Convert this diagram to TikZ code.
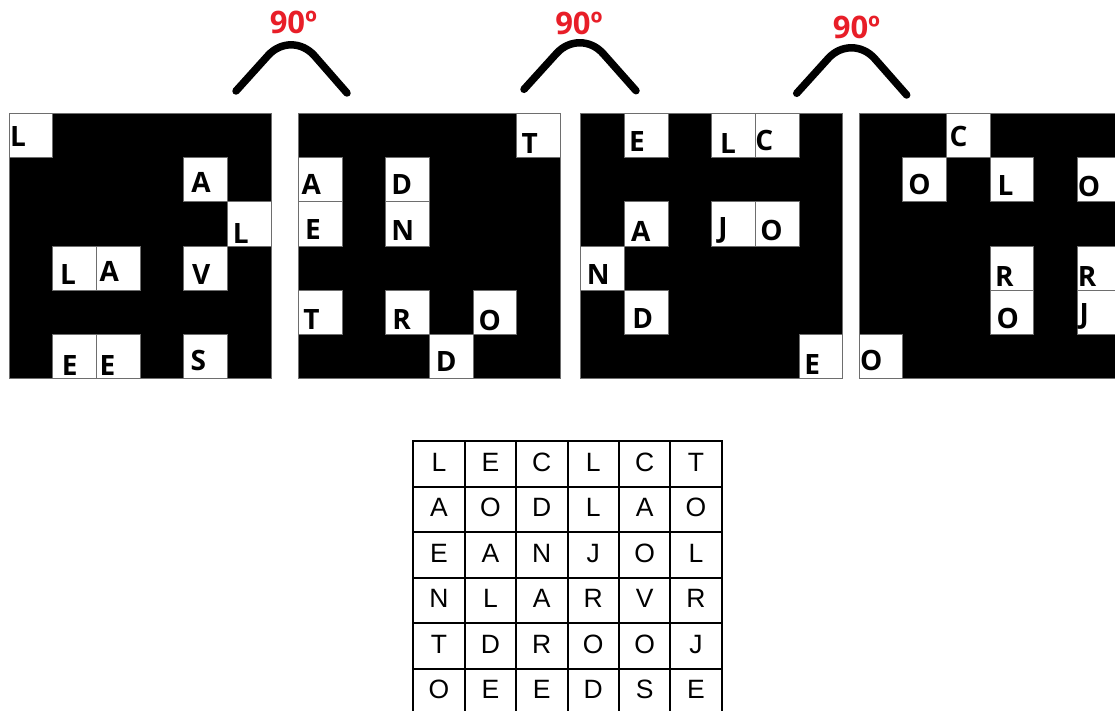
\documentclass[tikz,border=0pt]{standalone}
\usepackage{fontspec}
\setmainfont{Liberation Sans}
\newfontfamily\gfont{Open Sans}
\definecolor{lblred}{RGB}{232,30,40}
\definecolor{edgegray}{RGB}{110,110,110}
\begin{document}
\begin{tikzpicture}[x=1pt,y=-1pt,
  blk/.style={draw=edgegray, line width=0.8pt, fill=black, anchor=north west,
    minimum width=261.9pt, minimum height=265.2pt, inner sep=0pt, outer sep=0pt},
  wcell/.style={draw=edgegray, line width=0.8pt, fill=white, anchor=north west,
    minimum width=43.65pt, minimum height=44.2pt, inner sep=0pt, outer sep=0pt},
  glet/.style={font=\gfont\bfseries\fontsize{28}{28}\selectfont, anchor=base west, inner sep=0pt},
  arcline/.style={line width=7.5pt, line cap=round, rounded corners=35pt},
  deglbl/.style={font=\gfont\bfseries\fontsize{31}{31}\selectfont, text=lblred, anchor=base, inner sep=0pt},
  bcell/.style={draw=black, line width=2pt, anchor=north west, minimum width=51.4pt,
    minimum height=45.5pt, inner sep=0pt, outer sep=0pt},
  blet/.style={font=\fontsize{26.5}{26.5}\selectfont, anchor=base, inner sep=0pt}
]
\clip (0,0) rectangle (1115,710);
\fill[white] (0,0) rectangle (1115,710);

% black grilles
\node[blk] (sq1) at (9,113.3) {};
\node[blk] (sq2) at (298.3,113.3) {};
\node[blk] (sq3) at (580.7,113.3) {};
\node[blk] (sq4) at (859,113.3) {};

% grille 1
\foreach \r/\c/\l/\dx/\dy in {0/0/L/2.7/33.3, 1/4/A/9.3/35.3, 2/5/L/7.3/41.7, 3/1/L/9/38.3,
  3/2/A/5/35.7, 3/4/V/10/39, 5/1/E/10.7/40.7, 5/2/E/5/40.7, 5/4/S/8.7/36.3} {
  \node[wcell] (ca-\r-\c) at ({9+\c*43.65},{113.3+\r*44.2}) {};
  \node[glet] (la-\r-\c) at ({9+\c*43.65+\dx-1.8},{113.3+\r*44.2+\dy}) {\l};
}
% grille 2
\foreach \r/\c/\l/\dx/\dy in {0/5/T/6.7/40, 1/0/A/5/36.7, 1/2/D/7.3/36.7, 2/0/E/8.3/37.3,
  2/2/N/7.3/39, 4/0/T/6.7/39, 4/2/R/8.3/39, 4/4/O/7.3/40, 5/3/D/8.3/36.7} {
  \node[wcell] (cb-\r-\c) at ({298.3+\c*43.65},{113.3+\r*44.2}) {};
  \node[glet] (lb-\r-\c) at ({298.3+\c*43.65+\dx-1.8},{113.3+\r*44.2+\dy}) {\l};
}
% grille 3
\foreach \r/\c/\l/\dx/\dy in {0/1/E/6.3/38.3, 0/3/L/10/40, 0/4/C/1.7/37.3, 2/1/A/8.3/40,
  2/3/J/8.3/35.7, 2/4/O/6.7/38.3, 3/0/N/7.7/39, 4/1/D/9.7/38.3, 5/5/E/7/39.7} {
  \node[wcell] (cc-\r-\c) at ({580.7+\c*43.65},{113.3+\r*44.2}) {};
  \node[glet] (lc-\r-\c) at ({580.7+\c*43.65+\dx-1.8},{113.3+\r*44.2+\dy}) {\l};
}
% grille 4
\foreach \r/\c/\l/\dx/\dy in {0/2/C/5/33.3, 1/1/O/7.3/36.7, 1/3/L/9.3/38.3, 1/5/O/2.3/39,
  3/3/R/6.7/40.7, 3/5/R/2.3/40.7, 4/3/O/8.3/38.3, 4/5/J/4/33, 5/0/O/2.7/36} {
  \node[wcell] (cd-\r-\c) at ({859+\c*43.65},{113.3+\r*44.2}) {};
  \node[glet] (ld-\r-\c) at ({859+\c*43.65+\dx-1.8},{113.3+\r*44.2+\dy}) {\l};
}

% rotation arcs
\coordinate (a1s) at (236,91);   \coordinate (a1t) at (291.5,29.5); \coordinate (a1e) at (347,93);
\coordinate (a2s) at (524,89.3); \coordinate (a2t) at (580,27.5);   \coordinate (a2e) at (636,90.7);
\coordinate (a3s) at (796.7,93.3); \coordinate (a3t) at (851.7,32.5); \coordinate (a3e) at (906.7,95);
\draw[arcline] (a1s) -- (a1t) -- (a1e);
\draw[arcline] (a2s) -- (a2t) -- (a2e);
\draw[arcline] (a3s) -- (a3t) -- (a3e);
\node[deglbl] (d1) at (293.5,33) {90º};
\node[deglbl] (d2) at (579,34.3) {90º};
\node[deglbl] (d3) at (856.5,38.3) {90º};

% result grid
\foreach \row [count=\r from 0] in {{L,E,C,L,C,T},{A,O,D,L,A,O},{E,A,N,J,O,L},
  {N,L,A,R,V,R},{T,D,R,O,O,J},{O,E,E,D,S,E}} {
  \foreach \l [count=\c from 0] in \row {
    \node[bcell] (bc-\r-\c) at ({413.3+\c*51.4},{441+\r*45.5}) {};
    \node[blet] (bl-\r-\c) at ({413.3+(\c+0.5)*51.4},{441+\r*45.5+30}) {\l};
  }
}
\end{tikzpicture}
\end{document}
